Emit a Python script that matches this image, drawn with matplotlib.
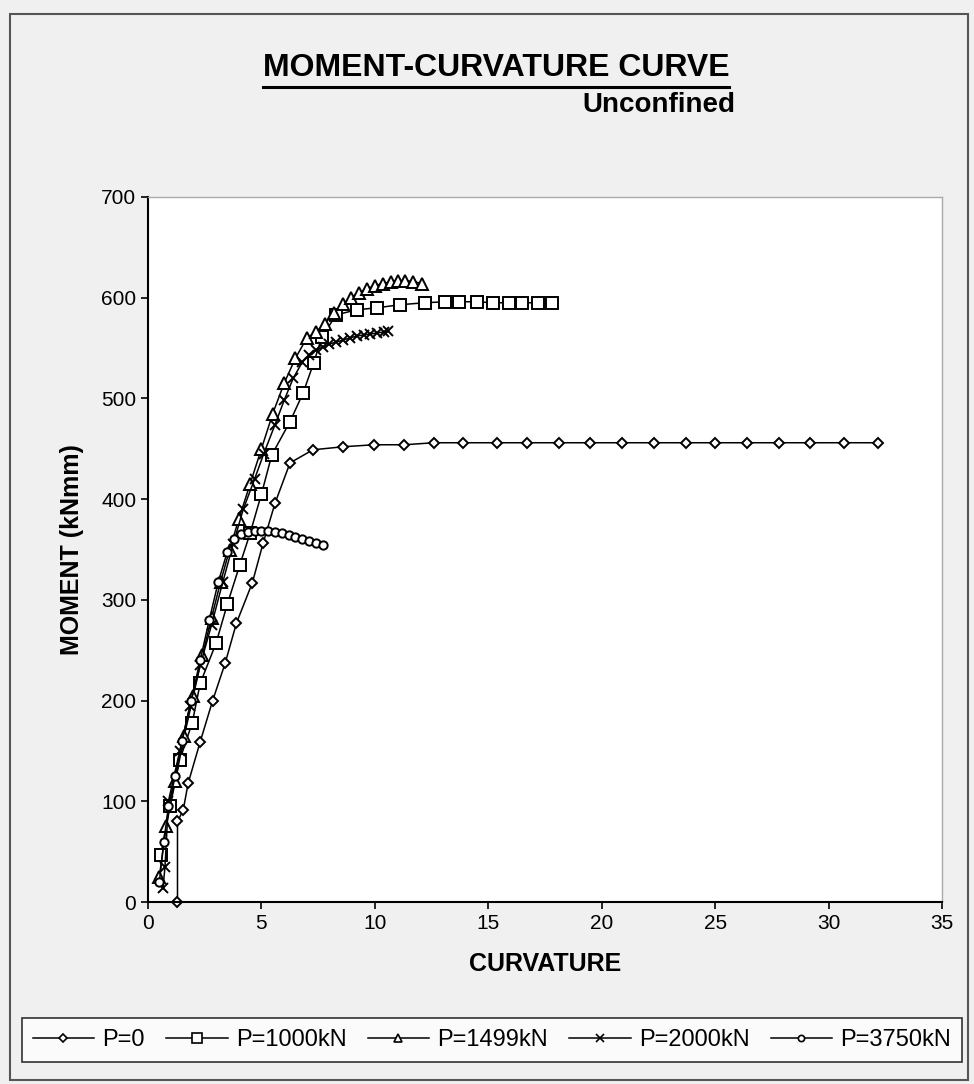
import matplotlib
matplotlib.use("Agg")
import matplotlib.pyplot as plt
from matplotlib.lines import Line2D
from matplotlib.patches import Rectangle

plt.rcParams['font.family'] = ['Liberation Sans', 'DejaVu Sans']

# curvature / moment readings for each axial load
curv_p0 = [1.3, 1.3, 1.55, 1.77, 2.3, 2.85, 3.4, 3.9, 4.6, 5.07, 5.6, 6.26, 7.27, 8.6, 9.96,
           11.3, 12.6, 13.9, 15.4, 16.7, 18.1, 19.5, 20.9, 22.3, 23.7, 25.0, 26.4, 27.8,
           29.2, 30.7, 32.2]
mom_p0 = [0, 80, 91, 118, 159, 200, 237, 277, 317, 356, 396, 436, 449, 452, 454,
          454, 456, 456, 456, 456, 456, 456, 456, 456, 456, 456, 456, 456,
          456, 456, 456]

curv_p1000 = [0.57, 0.95, 1.4, 1.95, 2.3, 3.0, 3.5, 4.05, 4.5, 5.0, 5.46, 6.26, 6.83, 7.3,
              7.66, 8.3, 9.2, 10.1, 11.1, 12.2, 13.1, 13.7, 14.5, 15.2, 15.9, 16.5,
              17.2, 17.8]
mom_p1000 = [47, 95, 141, 178, 217, 257, 296, 335, 366, 405, 444, 477, 505, 535,
             561, 583, 588, 590, 593, 595, 596, 596, 596, 595, 595, 595,
             595, 595]

curv_p1499 = [0.5, 0.8, 1.2, 1.6, 2.0, 2.4, 2.8, 3.2, 3.6, 4.0, 4.5, 5.0, 5.5, 6.0, 6.5,
              7.0, 7.4, 7.8, 8.2, 8.6, 8.95, 9.3, 9.65, 10.0, 10.35, 10.7, 11.0, 11.35,
              11.7, 12.1]
mom_p1499 = [25, 75, 120, 165, 205, 245, 282, 318, 350, 380, 415, 450, 485, 515, 540,
             560, 566, 574, 585, 594, 600, 605, 609, 612, 614, 616, 617, 617,
             616, 614]

curv_p2000 = [0.66, 0.75, 0.9, 1.4, 1.85, 2.3, 2.8, 3.3, 3.75, 4.2, 4.7, 5.1, 5.6, 6.0,
              6.4, 6.8, 7.1, 7.4, 7.7, 8.0, 8.3, 8.6, 8.9, 9.2, 9.5, 9.8, 10.1, 10.4, 10.6]
mom_p2000 = [14, 35, 100, 150, 195, 235, 275, 318, 355, 390, 420, 445, 474, 498,
             520, 536, 543, 548, 551, 554, 556, 558, 560, 562, 563, 564, 565, 566, 567]

curv_p3750 = [0.5, 0.7, 0.9, 1.2, 1.5, 1.9, 2.3, 2.7, 3.1, 3.5, 3.8, 4.1, 4.4, 4.7, 5.0,
              5.3, 5.6, 5.9, 6.2, 6.5, 6.8, 7.1, 7.4, 7.7]
mom_p3750 = [20, 60, 95, 125, 160, 200, 240, 280, 318, 348, 360, 365, 367, 368, 368,
             368, 367, 366, 364, 362, 360, 358, 356, 354]

series = [
    (curv_p0, mom_p0, 'P=0', 'D', 5),
    (curv_p1000, mom_p1000, 'P=1000kN', 's', 9),
    (curv_p1499, mom_p1499, 'P=1499kN', '^', 8),
    (curv_p2000, mom_p2000, 'P=2000kN', 'x', 7),
    (curv_p3750, mom_p3750, 'P=3750kN', 'o', 6),
]

fig = plt.figure(figsize=(9.74, 10.84), dpi=100, facecolor='#f0f0f0')
ax = fig.add_axes([148 / 974, 1 - 902 / 1084, 794 / 974, 705 / 1084])
ax.set_facecolor('white')

for x, y, lab, mk, ms in series:
    ax.plot(x, y, color='black', linewidth=1.1, marker=mk, markersize=ms,
            markerfacecolor='white', markeredgecolor='black', markeredgewidth=1.4,
            label=lab, clip_on=False)

ax.set_xlim(0, 35)
ax.set_ylim(0, 700)
ax.set_xticks(range(0, 36, 5))
ax.set_yticks(range(0, 701, 100))
ax.tick_params(labelsize=15, direction='out', length=5, width=1.2)
for s in ['left', 'bottom']:
    ax.spines[s].set_linewidth(1.5)
for s in ['top', 'right']:
    ax.spines[s].set_color('#aaaaaa')
    ax.spines[s].set_linewidth(1)

ax.set_xlabel('CURVATURE', fontsize=18, fontweight='bold', labelpad=14)
ax.set_ylabel('MOMENT (kNmm)', fontsize=18, fontweight='bold', labelpad=12)

title = fig.text(496 / 974, 1 - 68 / 1084, 'MOMENT-CURVATURE CURVE', fontsize=23,
                 fontweight='bold', ha='center', va='center')
fig.text(735 / 974, 1 - 105 / 1084, 'Unconfined', fontsize=20, fontweight='bold',
         ha='right', va='center')

# underline under the title
fig.canvas.draw()
bb = title.get_window_extent().transformed(fig.transFigure.inverted())
fig.add_artist(Line2D([bb.x0, bb.x1], [bb.y0 - 0.004, bb.y0 - 0.004], color='black',
                      linewidth=2.2, transform=fig.transFigure))

# outer frame of the chart
fig.add_artist(Rectangle((10 / 974, 4 / 1084), 958 / 974, 1066 / 1084, fill=False,
                         edgecolor='#555555', linewidth=1.5, transform=fig.transFigure))

handles = [Line2D([], [], color='black', linewidth=1.1, marker=mk, markersize=ms * 0.75,
                  markerfacecolor='white', markeredgecolor='black', markeredgewidth=1.2)
           for _, _, _, mk, ms in series]
labels = [s[2] for s in series]
leg = fig.legend(handles, labels, loc='center', ncol=5,
                 bbox_to_anchor=(492 / 974, 1 - 1040 / 1084), fontsize=17,
                 frameon=True, fancybox=False, edgecolor='black', handlelength=2.6,
                 handletextpad=0.35, columnspacing=0.9, borderpad=0.45,
                 borderaxespad=0)
leg.get_frame().set_linewidth(1.2)

fig.savefig('out.png', dpi=100, facecolor=fig.get_facecolor())
